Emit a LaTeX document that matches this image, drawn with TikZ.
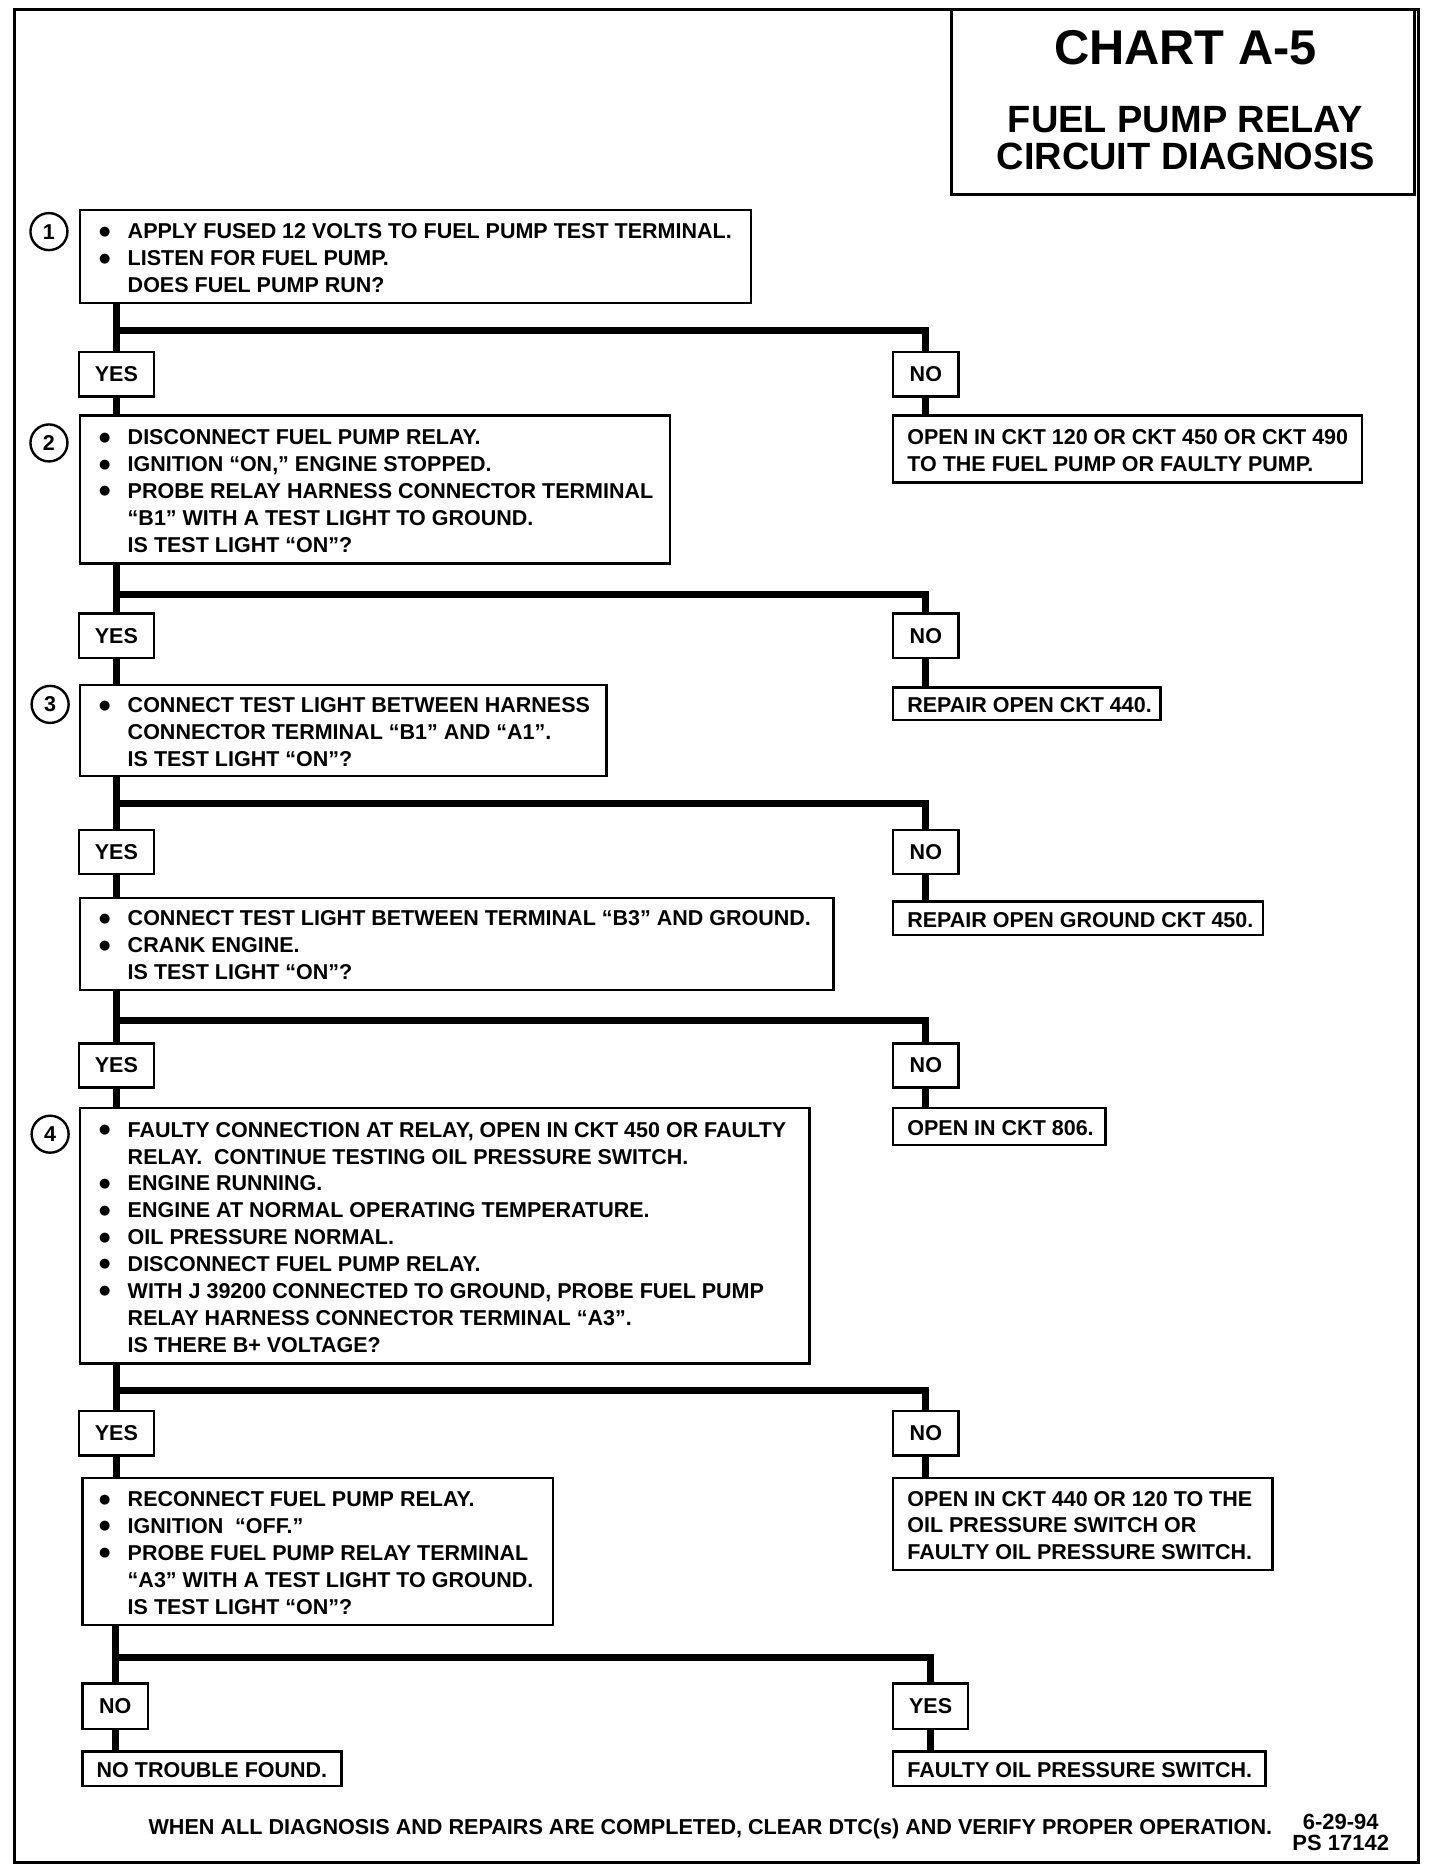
\documentclass[tikz,border=0pt]{standalone}
\usepackage{fontspec}
\setmainfont{Liberation Sans}
\newfontfamily\symfont{DejaVu Sans}
\newlength\px \setlength\px{0.597pt}
\newcommand\bodyfont{\fontsize{10.75}{13.43}\selectfont\bfseries}
\newcommand\bul{\llap{\makebox[24\px][l]{\raisebox{3\px}{\symfont\fontsize{6.5}{6.5}\selectfont ●}}}}
\tikzset{
  box/.style={draw, line width=1.2pt, inner sep=0pt, font=\bodyfont},
  conn/.style={line width=3.4pt},
  num/.style={circle, draw, line width=1.2pt, minimum size=31*\px, inner sep=0pt, font=\bodyfont},
  plain/.style={inner sep=0pt, font=\bodyfont},
}
% text box: name, x1, y1, x2, y2, indent, lines
\newcommand\bx[7]{%
  \node[box, minimum width={(#4-#2)*\px}, minimum height={(#5-#3)*\px}] (#1) at ({(#2+#4)/2},{(#3+#5)/2})
  {\makebox[\dimexpr#4\px-#2\px\relax][l]{\hspace*{#6\px}\raisebox{-3\px}[\height][\depth]{\begin{tabular}{@{}l@{}}#7\end{tabular}}}};}
% label box: name, x1, y1, x2, y2, text
\newcommand\lb[6]{%
  \node[box, minimum width={(#4-#2)*\px}, minimum height={(#5-#3)*\px}] (#1) at ({(#2+#4)/2},{(#3+#5)/2}) {#6};}
\begin{document}
\begin{tikzpicture}[x=0.597pt, y=-0.597pt]
\useasboundingbox (0,0) rectangle (1206,1568);
% outer frame
\draw[line width=1.6pt] (12,8) rectangle (1188,1560);
% title box
\node[draw, line width=1.4pt, minimum width={388*\px}, minimum height={155*\px}, inner sep=0pt] (title) at (991,85.5) {};
\node[plain, font=\fontsize{24.4}{26}\selectfont\bfseries] (t1) at (993,40) {CHART A-5};
\node[plain, font=\fontsize{19}{20}\selectfont\bfseries] (t2) at (993,100) {FUEL PUMP RELAY};
\node[plain, font=\fontsize{19}{20}\selectfont\bfseries] (t3) at (993,131) {CIRCUIT DIAGNOSIS};

% step 1
\node[num] (c1) at (41,194) {1};
\bx{b1}{67}{176}{629}{254}{40}{%
\bul APPLY FUSED 12 VOLTS TO FUEL PUMP TEST TERMINAL.\\
\bul LISTEN FOR FUEL PUMP.\\
DOES FUEL PUMP RUN?}
\coordinate (h1) at (0,277);
\lb{yes1}{66}{295}{129}{332}{YES}
\lb{no1}{748}{295}{803}{332}{NO}

% step 2
\node[num] (c2) at (41,371) {2};
\bx{b2}{67}{348}{561}{472}{40}{%
\bul DISCONNECT FUEL PUMP RELAY.\\
\bul IGNITION “ON,” ENGINE STOPPED.\\
\bul PROBE RELAY HARNESS CONNECTOR TERMINAL\\
“B1” WITH A TEST LIGHT TO GROUND.\\
IS TEST LIGHT “ON”?}
\bx{r1}{748}{348}{1141}{404}{12}{%
OPEN IN CKT 120 OR CKT 450 OR CKT 490\\
TO THE FUEL PUMP OR FAULTY PUMP.}
\coordinate (h2) at (0,498);
\lb{yes2}{66}{514}{129}{551}{YES}
\lb{no2}{748}{514}{803}{551}{NO}

% step 3
\node[num] (c3) at (42,590) {3};
\bx{b3}{67}{574}{508}{650}{40}{%
\bul CONNECT TEST LIGHT BETWEEN HARNESS\\
CONNECTOR TERMINAL “B1” AND “A1”.\\
IS TEST LIGHT “ON”?}
\bx{r2}{748}{576}{972}{603}{12}{REPAIR OPEN CKT 440.}
\coordinate (h3) at (0,673);
\lb{yes3}{66}{695}{129}{732}{YES}
\lb{no3}{748}{695}{803}{732}{NO}

% step 3b
\bx{b3b}{67}{752}{698}{829}{40}{%
\bul CONNECT TEST LIGHT BETWEEN TERMINAL “B3” AND GROUND.\\
\bul CRANK ENGINE.\\
IS TEST LIGHT “ON”?}
\bx{r3}{748}{755}{1058}{783}{12}{REPAIR OPEN GROUND CKT 450.}
\coordinate (h4) at (0,855);
\lb{yes4}{66}{874}{129}{911}{YES}
\lb{no4}{748}{874}{803}{911}{NO}

% step 4
\node[num] (c4) at (42,950) {4};
\bx{b4}{67}{928}{678}{1142}{40}{%
\bul FAULTY CONNECTION AT RELAY, OPEN IN CKT 450 OR FAULTY\\
RELAY.\ \ CONTINUE TESTING OIL PRESSURE SWITCH.\\
\bul ENGINE RUNNING.\\
\bul ENGINE AT NORMAL OPERATING TEMPERATURE.\\
\bul OIL PRESSURE NORMAL.\\
\bul DISCONNECT FUEL PUMP RELAY.\\
\bul WITH J 39200 CONNECTED TO GROUND, PROBE FUEL PUMP\\
RELAY HARNESS CONNECTOR TERMINAL “A3”.\\
IS THERE B+ VOLTAGE?}
\bx{r4}{748}{928}{926}{959}{12}{OPEN IN CKT 806.}
\coordinate (h5) at (0,1165);
\lb{yes5}{66}{1182}{129}{1219}{YES}
\lb{no5}{748}{1182}{803}{1219}{NO}

% step 5
\bx{b5}{69}{1238}{463}{1361}{38}{%
\bul RECONNECT FUEL PUMP RELAY.\\
\bul IGNITION\ \ “OFF.”\\
\bul PROBE FUEL PUMP RELAY TERMINAL\\
“A3” WITH A TEST LIGHT TO GROUND.\\
IS TEST LIGHT “ON”?}
\bx{r5}{748}{1238}{1066}{1315}{12}{%
OPEN IN CKT 440 OR 120 TO THE\\
OIL PRESSURE SWITCH OR\\
FAULTY OIL PRESSURE SWITCH.}
\coordinate (h6) at (0,1388);
\lb{no6}{69}{1410}{124}{1448}{NO}
\lb{yes6}{748}{1410}{811}{1448}{YES}
\bx{r6}{69}{1467}{286}{1496}{12}{NO TROUBLE FOUND.}
\bx{r7}{748}{1467}{1060}{1496}{12}{FAULTY OIL PRESSURE SWITCH.}

% connectors
\draw[conn] (b1.south -| yes1) -- (yes1.north);
\draw[conn] (h1 -| yes1) -| (no1.north);
\draw[conn] (yes1.south) -- (b2.north -| yes1);
\draw[conn] (no1.south) -- (r1.north -| no1);

\draw[conn] (b2.south -| yes2) -- (yes2.north);
\draw[conn] (h2 -| yes2) -| (no2.north);
\draw[conn] (yes2.south) -- (b3.north -| yes2);
\draw[conn] (no2.south) -- (r2.north -| no2);

\draw[conn] (b3.south -| yes3) -- (yes3.north);
\draw[conn] (h3 -| yes3) -| (no3.north);
\draw[conn] (yes3.south) -- (b3b.north -| yes3);
\draw[conn] (no3.south) -- (r3.north -| no3);

\draw[conn] (b3b.south -| yes4) -- (yes4.north);
\draw[conn] (h4 -| yes4) -| (no4.north);
\draw[conn] (yes4.south) -- (b4.north -| yes4);
\draw[conn] (no4.south) -- (r4.north -| no4);

\draw[conn] (b4.south -| yes5) -- (yes5.north);
\draw[conn] (h5 -| yes5) -| (no5.north);
\draw[conn] (yes5.south) -- (b5.north -| yes5);
\draw[conn] (no5.south) -- (r5.north -| no5);

\draw[conn] (b5.south -| no6) -- (no6.north);
\draw[conn] (h6 -| no6) -| (yes6.north);
\draw[conn] (no6.south) -- (r6.north -| no6);
\draw[conn] (yes6.south) -- (r7.north -| yes6);

% footer
\node[plain, font=\fontsize{10.8}{12}\selectfont\bfseries] (foot) at (595,1532) {WHEN ALL DIAGNOSIS AND REPAIRS ARE COMPLETED, CLEAR DTC(s) AND VERIFY PROPER OPERATION.};
\node[plain, align=center, font=\fontsize{11}{10.75}\selectfont\bfseries] (date) at (1123,1535) {6-29-94\\PS 17142};
\end{tikzpicture}
\end{document}
